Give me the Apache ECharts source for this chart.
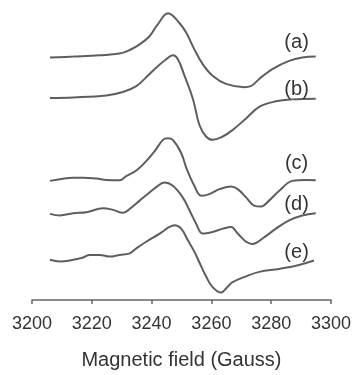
<!DOCTYPE html>
<html>
<head>
<meta charset="utf-8">
<script src="https://cdn.jsdelivr.net/npm/echarts@6/dist/echarts.min.js"></script>
<style>
  html, body { margin: 0; padding: 0; background: #fff; }
  #chart { width: 354px; height: 375px; }
</style>
</head>
<body>
<div id="chart"></div>
<script>
// EPR spectra, [field (G), stacked intensity (a.u.)]
var traceA = [[3206,245.7],[3213.8,246.7],[3222.7,248],[3229.3,249.7],[3232.7,253.3],[3236,259],[3239.3,267.3],[3242,279],[3245.5,290.5],[3249.3,280.7],[3251.6,270.7],[3254.3,254],[3257.1,239],[3260.4,227.3],[3264.9,219],[3271,215.7],[3273.2,216.7],[3276,224],[3280.4,234],[3286,242.3],[3290.4,245.7],[3294.9,246.7]];
var traceB = [[3206,204.7],[3213.8,205.3],[3224.9,207.3],[3230.4,210.7],[3234.9,216.7],[3238.2,225.7],[3241.6,235.7],[3244.9,244],[3247.1,248],[3248.8,244],[3251,227.3],[3253.8,204],[3256,177.3],[3258.2,165.7],[3260.4,162.3],[3263.8,165.7],[3267.1,172.3],[3271.6,184],[3276,195.7],[3281.6,201.3],[3287.1,203.3],[3294.9,204]];
var traceC = [[3206,120.7],[3209.3,122.3],[3213.8,124],[3217.1,124],[3221.6,123],[3224.9,121.7],[3229.3,121.3],[3231.6,125.7],[3234.9,131.3],[3238.2,140.7],[3241,150.7],[3243.8,162.3],[3245.4,164],[3247.1,162.3],[3249.9,149],[3251.6,134],[3254.3,115.7],[3256.6,105.7],[3259.3,107.3],[3262.7,112.3],[3266.6,115],[3268.8,112.3],[3271.6,104],[3274.3,95.7],[3276.6,94.7],[3279.3,100.7],[3282.7,110.7],[3287.1,120.7],[3291.6,121.7],[3294.9,121.3]];
var traceD = [[3206,87.3],[3209.3,85.7],[3213.8,88],[3218.2,89],[3223.8,93],[3227.1,91.3],[3230.4,88.3],[3232.7,92.3],[3236,100.7],[3239.3,109],[3242.1,115.7],[3244.3,119],[3247.1,115.7],[3250.4,104],[3252.7,90.7],[3254.9,77.3],[3257.1,67.3],[3260.4,69],[3263.8,72.3],[3266.6,74],[3268.8,67.3],[3271.6,59],[3273.8,56.7],[3277.1,62.3],[3281.6,72.3],[3286,80.7],[3290.4,85.7],[3294.9,88]];
var traceE = [[3206,40.7],[3209.3,39],[3213.8,40.7],[3217.1,43],[3219.3,45.7],[3222.7,45.7],[3226,44],[3229.3,45.7],[3232.7,47.3],[3234.9,52.3],[3238.2,59],[3242.7,67.3],[3246,74],[3247.7,75.7],[3249.9,72.3],[3252.1,60.7],[3254.3,49],[3256,38],[3258.2,24],[3260.4,13],[3263.2,7.5],[3265.3,13],[3267.1,18],[3271.6,24],[3276,28.5],[3282.7,31.5],[3289.3,35.5],[3294.3,40]];
var traceNames = ['(a)', '(b)', '(c)', '(d)', '(e)'];
// where each trace label sits, [field, intensity]
var labelAt = [[3288.5,260.5],[3288.5,213.3],[3288.5,138.3],[3288.5,96.6],[3288.5,48.3]];
var fieldTicks = [3200, 3300, 20];

var chart = echarts.init(document.getElementById('chart'));
var traces = [traceA, traceB, traceC, traceD, traceE];

chart.setOption({
  animation: false,
  grid: { left: 32, width: 300, top: 0, height: 304 },
  xAxis: {
    type: 'value',
    min: fieldTicks[0],
    max: fieldTicks[1],
    interval: fieldTicks[2],
    name: 'Magnetic field (Gauss)',
    nameLocation: 'middle',
    nameGap: 50,
    nameTextStyle: { fontFamily: 'Liberation Sans', fontSize: 20, color: '#333' },
    axisLine: { lineStyle: { color: '#666', width: 1.5 } },
    axisTick: { inside: false, length: 4, lineStyle: { color: '#666', width: 1.5 } },
    axisLabel: {
      margin: 15,
      fontFamily: 'Liberation Sans',
      fontSize: 18,
      color: '#333',
      formatter: function (v) { return String(v); }
    },
    splitLine: { show: false }
  },
  yAxis: {
    type: 'value',
    min: 0,
    max: 304,
    show: false
  },
  series: traces.map(function (t, i) {
    return {
      type: 'line',
      data: t,
      smooth: 0.4,
      symbol: 'none',
      lineStyle: { color: '#5e5e5e', width: 2 },
      markPoint: {
        symbolSize: 0,
        label: {
          show: true,
          position: 'inside',
          formatter: traceNames[i],
          fontFamily: 'Liberation Sans',
          fontSize: 20,
          color: '#333'
        },
        data: [{ coord: labelAt[i] }]
      }
    };
  })
});
</script>
</body>
</html>
